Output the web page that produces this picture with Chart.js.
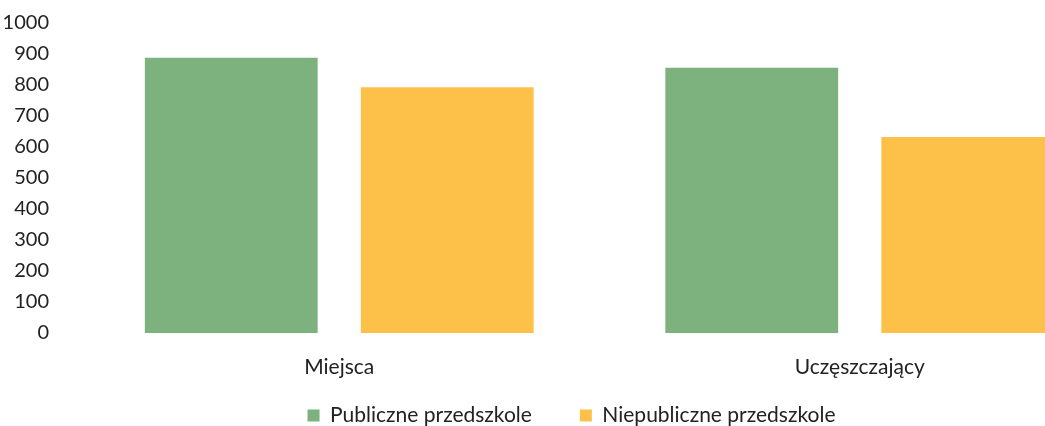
<!DOCTYPE html>
<html>
<head>
<meta charset="utf-8">
<script src="https://cdn.jsdelivr.net/npm/chart.js@4/dist/chart.umd.min.js"></script>
<style>
  html, body { margin: 0; padding: 0; background: #fff; overflow: hidden; }
  #wrap { width: 1143px; height: 426px; }
</style>
</head>
<body>
<div id="wrap"><canvas id="wykres"></canvas></div>
<script>
const kategorie = ['Miejsca', 'Uczęszczający'];
const publiczne = [888, 856];
const niepubliczne = [793, 632];
const osY = [0, 1000, 100];

const bezPrzycinania = function() { return undefined; };

const ctx = document.getElementById('wykres').getContext('2d');

new Chart(ctx, {
    type: 'bar',
    data: {
        labels: kategorie,
        datasets: [{
            label: 'Publiczne przedszkole',
            data: publiczne,
            backgroundColor: '#7db17e'
        }, {
            label: 'Niepubliczne przedszkole',
            data: niepubliczne,
            backgroundColor: '#fdc14a'
        }]
    },
    options: {
        responsive: true,
        maintainAspectRatio: false,
        animation: false,
        categoryPercentage: 0.83,
        barPercentage: 0.8,
        layout: {
            padding: { top: 23, left: 23, right: 23, bottom: 0 }
        },
        scales: {
            y: {
                min: osY[0],
                max: osY[1],
                afterFit: function(scale) {
                    scale.width = 56;
                    scale.paddingTop = 0;
                    scale.paddingBottom = 0;
                    scale._computeLabelArea = bezPrzycinania;
                },
                ticks: {
                    stepSize: osY[2],
                    color: '#222',
                    padding: 22,
                    font: { family: 'Lato', size: 20 },
                    callback: function(value) {
                        return String(value);
                    }
                },
                grid: { display: false },
                border: { display: false }
            },
            x: {
                afterFit: function(scale) {
                    // etykiety wychodza poza wysokosc osi, wiec bez przycinania
                    scale.height = 24;
                    scale._computeLabelArea = bezPrzycinania;
                },
                ticks: {
                    color: '#222',
                    padding: 14,
                    font: { family: 'Lato', size: 21 }
                },
                grid: { display: false },
                border: { display: false }
            }
        },
        plugins: {
            legend: {
                position: 'bottom',
                maxHeight: 69,
                labels: {
                    boxWidth: 12,
                    boxHeight: 12,
                    padding: 48,
                    color: '#222',
                    font: { family: 'Lato', size: 21 }
                }
            },
            tooltip: { enabled: false }
        }
    }
});
</script>
</body>
</html>
